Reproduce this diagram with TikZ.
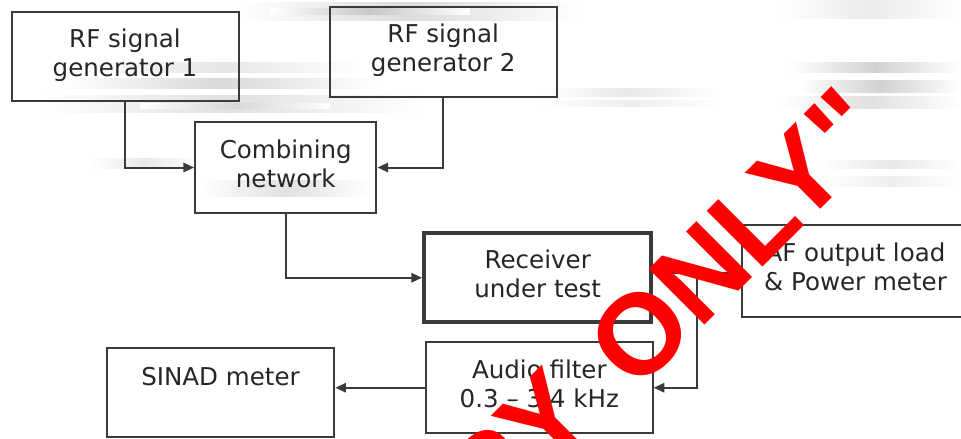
\documentclass[tikz,border=0pt]{standalone}
\usepackage{fontspec}
\setmainfont{DejaVu Sans}
\newfontfamily\wmfont{Liberation Sans}
\usetikzlibrary{arrows.meta}

\definecolor{ink}{RGB}{58,58,58}
\definecolor{txt}{RGB}{38,38,38}
\definecolor{wmred}{RGB}{255,0,0}

% extra depth on the last line lifts a two-line label slightly
\newcommand\lo{\rule[-6.2pt]{0pt}{0.1pt}}

\tikzset{
  blk/.style={draw=ink, line width=1.5pt, inner sep=0pt, align=center,
    text=txt, font=\fontsize{18.4}{21.8}\selectfont},
  thickblk/.style={blk, line width=3pt},
  lbl/.style={inner sep=0pt, text=txt, font=\fontsize{18.4}{21.8}\selectfont},
  arr/.style={draw=ink, line width=1.5pt, -{Triangle[length=8pt,width=7pt]}},
  smudge/.style={left color=white, right color=white, middle color=black!#1},
  wm/.style={text=wmred, inner sep=0pt, rotate=45,
    font=\wmfont\bfseries\fontsize{86}{86}\selectfont}
}

\begin{document}
\begin{tikzpicture}[x=0.75pt,y=-0.75pt]

\useasboundingbox (0,0) rectangle (961,439);
\fill[white] (0,0) rectangle (961,439);

% scanner streaks
\shade[smudge=14] (240,2) rectangle (580,20);
\shade[smudge=22] (270,8) rectangle (470,14);
\shade[smudge=8]  (780,0) rectangle (961,18);
\shade[smudge=10] (80,62) rectangle (360,72);
\shade[smudge=15] (60,78) rectangle (380,88);
\shade[smudge=12] (40,95) rectangle (420,112);
\shade[smudge=16] (140,103) rectangle (330,108);
\shade[smudge=18] (790,62) rectangle (961,72);
\shade[smudge=18] (800,80) rectangle (961,92);
\shade[smudge=12] (780,96) rectangle (961,108);
\shade[smudge=9]  (540,88) rectangle (720,96);
\shade[smudge=7]  (540,100) rectangle (720,106);
\shade[smudge=9]  (90,158) rectangle (200,168);
\shade[smudge=12] (200,180) rectangle (370,196);
\shade[smudge=9]  (820,160) rectangle (961,168);
\shade[smudge=7]  (820,176) rectangle (961,186);

% blocks
\node[blk, minimum width=170.25pt, minimum height=67.1pt] (gen1) at (125,56.75)
  {RF signal\\generator 1\lo};
\node[blk, minimum width=169.9pt, minimum height=67.5pt] (gen2) at (443.25,52)
  {RF signal\\generator 2\lo};
\node[blk, minimum width=136.1pt, minimum height=68.25pt] (comb) at (285.75,167.5)
  {Combining\\network\lo};
\node[thickblk, minimum width=170.6pt, minimum height=66.4pt] (recv) at (537.75,277.75)
  {Receiver\\under test\lo};
\node[blk, minimum width=170.6pt, minimum height=68.8pt] (afl) at (855.5,270.85)
  {AF output load\\\& Power meter\lo};
\node[blk, minimum width=170pt, minimum height=67.9pt] (audio) at (539.35,387.75)
  {Audio filter\\0.3 -- 3.4 kHz\lo};
\node[blk, minimum width=170.7pt, minimum height=66.75pt] (sinad) at (220.5,392.5) {};
\node[lbl, anchor=base] (sinadtxt) at (220.5,385) {SINAD meter};

% connections
\draw[arr] (gen1.south) |- (comb.west);
\draw[arr] (gen2.south) |- (comb.east);
\draw[arr] (comb.south) |- (recv.west);
\coordinate (tap) at (696.7,273);
\draw[arr] (recv.east |- tap) -- (afl.west |- tap);
\draw[arr] (tap) |- (audio.east);
\draw[arr] (audio.west) -- (audio.west -| sinad.east);

% watermark
\node[wm, anchor=base east] (wma) at (600,419) {“COPY};
\node[wm, anchor=base west] (wmb) at (636,394) {ONLY"};
\end{tikzpicture}
\end{document}
